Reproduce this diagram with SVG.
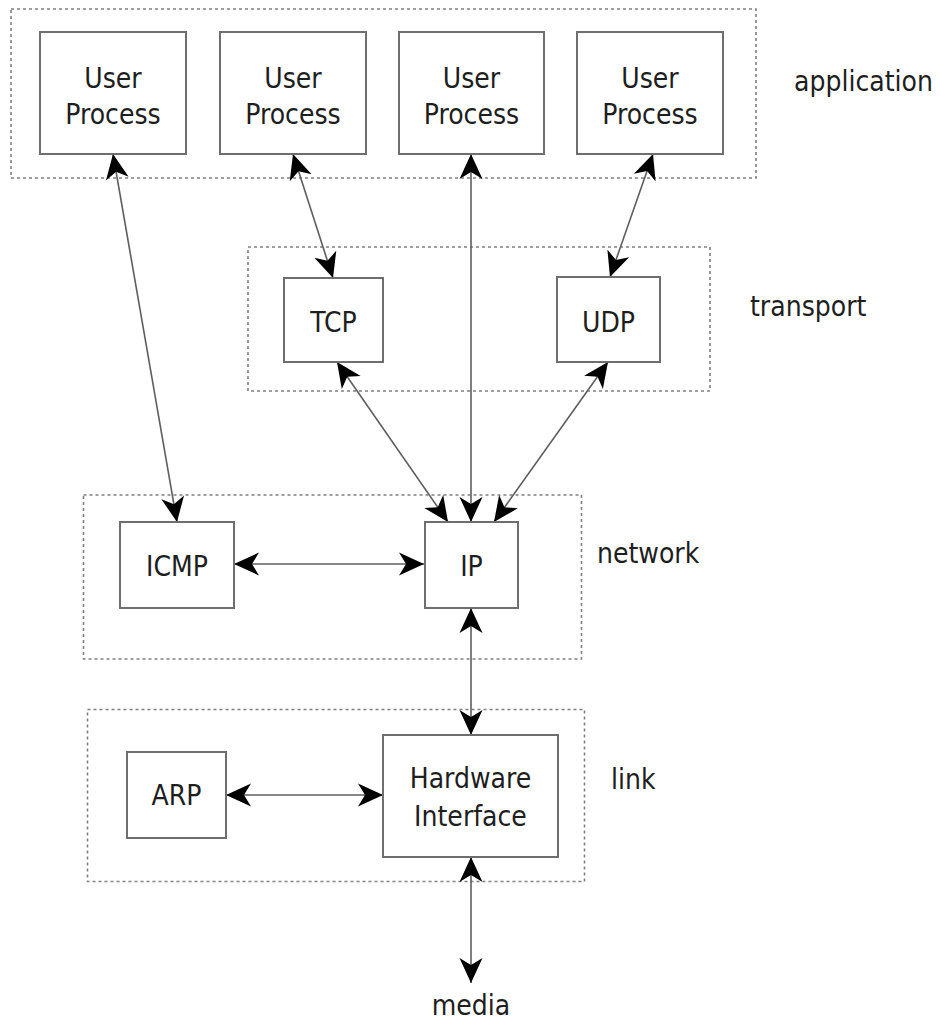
<svg xmlns="http://www.w3.org/2000/svg" width="940" height="1023" viewBox="0 0 940 1023">
<style>
.layer{fill:none;stroke:#808080;stroke-width:1.6;stroke-dasharray:3 3}
.box{fill:#fff;stroke:#6e6e6e;stroke-width:2}
.t{font-family:"DejaVu Sans Condensed","DejaVu Sans",sans-serif;font-stretch:condensed;font-size:28px;fill:#1e1e1e}
.c{text-anchor:middle}
.ln{fill:none;stroke:#5e5e5e;stroke-width:1.6;marker-start:url(#ah);marker-end:url(#ah)}
</style>
<defs>
<marker id="ah" markerUnits="userSpaceOnUse" markerWidth="25" markerHeight="24" viewBox="0 0 25 24" refX="25" refY="12" orient="auto-start-reverse">
<path d="M0,0.5 L25,12 L0,23.5 L7,12 z" fill="#000"/>
</marker>
</defs>
<rect width="940" height="1023" fill="#fff"/>
<g id="layers">
<rect class="layer" x="11" y="9" width="745" height="169"/>
<rect class="layer" x="248" y="247" width="462" height="144"/>
<rect class="layer" x="83.5" y="495" width="498" height="164"/>
<rect class="layer" x="87.5" y="709.5" width="497" height="172"/>
</g>
<g id="labels">
<text class="t" x="794" y="91">application</text>
<text class="t" x="750" y="316">transport</text>
<text class="t" x="597" y="563">network</text>
<text class="t" x="611" y="789">link</text>
<text id="media" class="t c" x="471" y="1015">media</text>
</g>
<g id="connectors">
<line class="ln" x1="113" y1="154" x2="177" y2="522"/>
<line class="ln" x1="293" y1="154" x2="333" y2="278"/>
<line class="ln" x1="471" y1="154" x2="471" y2="522"/>
<line class="ln" x1="653" y1="154" x2="610" y2="277"/>
<line class="ln" x1="337" y1="362" x2="448" y2="522"/>
<line class="ln" x1="608" y1="362" x2="494" y2="522"/>
<line class="ln" x1="234" y1="564" x2="424" y2="564"/>
<line class="ln" x1="471" y1="608" x2="471" y2="735"/>
<line class="ln" x1="226" y1="795" x2="383" y2="795"/>
<line class="ln" x1="471" y1="857" x2="471" y2="983"/>
</g>
<g id="up1"><rect class="box" x="40" y="32" width="146" height="122"/><text class="t c" x="113" y="88">User</text><text class="t c" x="113" y="124">Process</text></g>
<g id="up2"><rect class="box" x="220" y="32" width="146" height="122"/><text class="t c" x="293" y="88">User</text><text class="t c" x="293" y="124">Process</text></g>
<g id="up3"><rect class="box" x="399" y="32" width="145" height="122"/><text class="t c" x="471.5" y="88">User</text><text class="t c" x="471.5" y="124">Process</text></g>
<g id="up4"><rect class="box" x="577" y="32" width="146" height="122"/><text class="t c" x="650" y="88">User</text><text class="t c" x="650" y="124">Process</text></g>
<g id="tcp"><rect class="box" x="284" y="278" width="99" height="84"/><text class="t c" x="333.5" y="332">TCP</text></g>
<g id="udp"><rect class="box" x="557" y="277" width="103" height="85"/><text class="t c" x="608.5" y="332">UDP</text></g>
<g id="icmp"><rect class="box" x="120" y="522" width="114" height="86"/><text class="t c" x="177" y="576">ICMP</text></g>
<g id="ip"><rect class="box" x="425" y="522" width="93" height="86"/><text class="t c" x="471.5" y="576">IP</text></g>
<g id="arp"><rect class="box" x="127" y="752" width="99" height="86"/><text class="t c" x="176.5" y="805">ARP</text></g>
<g id="hw"><rect class="box" x="383" y="735" width="175" height="122"/><text class="t c" x="470.5" y="788">Hardware</text><text class="t c" x="470.5" y="826">Interface</text></g>
</svg>
